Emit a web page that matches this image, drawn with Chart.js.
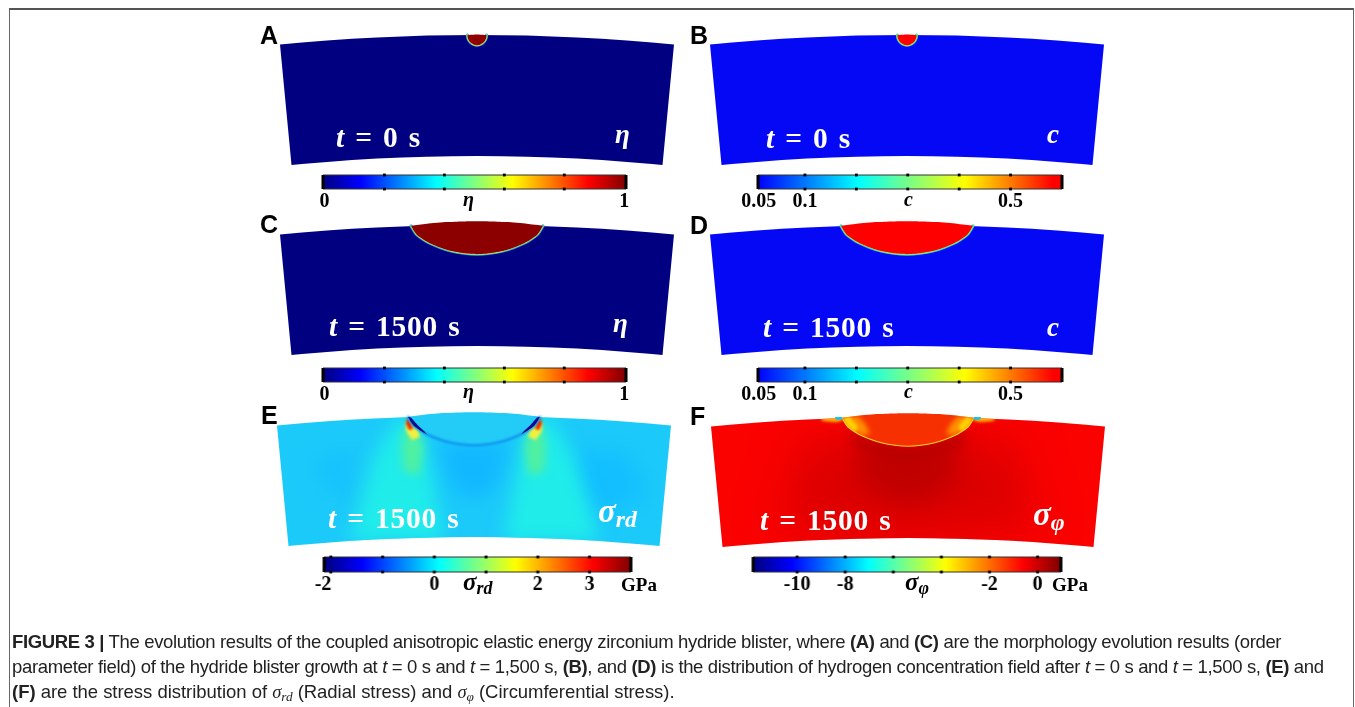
<!DOCTYPE html>
<html><head><meta charset="utf-8">
<script src="https://cdn.jsdelivr.net/npm/chart.js@4/dist/chart.umd.min.js"></script>
<style>
html,body{margin:0;padding:0;background:#fff;overflow:hidden}
#page{position:absolute;left:0;top:0;width:1355px;height:707px;overflow:hidden;filter:blur(.4px)}
#frame{position:absolute;left:9px;top:8px;width:1345px;height:720px;border:1px solid #666;border-top:2px solid #555;box-sizing:border-box}
canvas{position:absolute}
.t{position:absolute;white-space:nowrap;line-height:1}
.letter{font:bold 25px "Liberation Sans";color:#000}
.time{font:bold 29.5px "Liberation Serif";color:#fff;word-spacing:2px;letter-spacing:.8px}
.sym{font:italic bold 27px "Liberation Serif";color:#fff}
.sig{font:italic bold 33px "Liberation Serif";color:#fff}
.bsym{font:italic bold 20px "Liberation Serif";color:#000}
.bsig{font:italic bold 25px "Liberation Serif";color:#000}
.gpa{font:bold 19px "Liberation Serif";color:#000}
sub{font-size:.72em;line-height:0;vertical-align:-.22em}
.cap{font:18.5px "Liberation Sans";color:#222;letter-spacing:-.35px}
.cap3{letter-spacing:-.03px}
.cap i.g{font-family:"Liberation Serif"}
</style></head><body><div id="page"><div id="frame"></div></div>
<script>
// ---- shapes (u = px from panel centre, v = px below arc crown)
const sectorOutline=[[-197,9.5],[-175,7.5],[-150,5.5],[-125,3.8],[-100,2.45],[-75,1.4],[-50,.6],[-25,.15],[0,0],[25,.15],[50,.6],[75,1.4],[100,2.45],[125,3.8],[150,5.5],[175,7.5],[197,9.5],[185.5,130],[175,129],[150,126.9],[125,125.1],[100,123.6],[75,122.5],[50,121.7],[25,121.2],[0,121],[-25,121.2],[-50,121.7],[-75,122.5],[-100,123.6],[-125,125.1],[-150,126.9],[-175,129],[-185.5,130]];
const capLower=[[-9.6,0],[-9.2,3],[-7.8,5.9],[-5.4,8.3],[-2.8,9.7],[0,10.2],[2.8,9.7],[5.4,8.3],[7.8,5.9],[9.2,3],[9.6,0]];
const capUpper=[[9.6,0],[0,-.5],[-9.6,0]];
const lensLower=[[-66,.8],[-63,6],[-60,10],[-53,15],[-46.7,18.5],[-37,22.5],[-26.7,25.8],[-13,28.3],[0,29.2],[13,28.3],[26.7,25.8],[37,22.5],[46.7,18.5],[53,15],[60,10],[63,6],[66,.8]];
const lensUpper=[[66,.8],[50,-1.2],[30,-2.9],[15,-3.6],[0,-3.8],[-15,-3.6],[-30,-2.9],[-50,-1.2]];
// radial stress field patches
const rdPlumeL=[[-75,0],[-100,40],[-125,125],[-30,125],[-45,45],[-55,10]];
const rdPlumeR=[[75,0],[100,40],[125,125],[30,125],[45,45],[55,10]];
const rdUnder=[[-35,28],[35,28],[22,70],[0,85],[-22,70]];
const rdSideR=[[85,40],[150,35],[175,80],[120,100]];
const rdSideL=[[-165,50],[-120,30],[-125,90]];
const rdGreenL=[[-68,8],[-72,30],[-70,55],[-55,60],[-50,30],[-58,12]];
const rdGreenR=[[68,8],[72,30],[70,55],[55,60],[50,30],[58,12]];
const rdYellowL=[[-68,6],[-68,15],[-62,24],[-54,21],[-56,14],[-61,10]];
const rdYellowR=[[68,6],[68,15],[62,24],[54,21],[56,14],[61,10]];
const rdRedL=[[-67,2],[-68,8],[-65,14],[-61,13],[-63,7]];
const rdRedR=[[67,2],[68,8],[65,14],[61,13],[63,7]];
const rdTipL=[[-66,.8],[-63,6],[-60,10],[-53,15],[-47,18.5],[-50,15],[-56,9.5],[-60,5],[-63,1.5]];
const rdTipR=[[66,.8],[63,6],[60,10],[53,15],[47,18.5],[50,15],[56,9.5],[60,5],[63,1.5]];
// circumferential stress field patches
const phiDarkWide=[[-100,15],[-50,30],[0,35],[50,30],[100,15],[130,110],[0,125],[-130,110]];
const phiDarkCore=[[-55,22],[0,32],[55,22],[45,70],[0,90],[-45,70]];
const phiDarkRim=[[-60,12],[-40,24],[0,33],[40,24],[60,12],[50,30],[0,45],[-50,30]];
const phiGlowL=[[-66,.8],[-50,-1],[-42,8],[-38,17],[-47,18.5],[-53,15],[-60,10]];
const phiGlowR=[[66,.8],[50,-1],[42,8],[38,17],[47,18.5],[53,15],[60,10]];
const phiHotL=[[-66,.8],[-58,0],[-50,10],[-53,15],[-60,10]];
const phiHotR=[[66,.8],[58,0],[50,10],[53,15],[60,10]];
const phiHaloL=[[-88,2],[-78,0],[-68,0],[-64,3],[-72,5],[-85,4]];
const phiHaloR=[[88,2],[78,0],[68,0],[64,3],[72,5],[85,4]];
const phiSpotL=[[-73,0],[-66,0],[-65,2.5],[-72,3]];
const phiSpotR=[[73,0],[66,0],[65,2.5],[72,3]];
// colour bars: tick dots, labelled values and label texts
const etaTicks=[.2,.4,.6,.8], etaLabelAt=[0,1], etaLabels=["0","1"];
const concTicks=[.1,.2,.3,.4,.5], concLabelAt=[.01,.1,.5], concLabels=["0.05","0.1","0.5"];
const rdTicks=[-2,-1,0,1,2,3], rdLabelAt=[-2.15,0,2,3], rdLabels=["-2","0","2","3"];
const phiTicks=[-10,-8,-6,-4,-2,0], phiLabelAt=[-10,-8,-2,0], phiLabels=["-10","-8","-2","0"];
const jetStops=[[0,"#000080"],[.125,"#0000ff"],[.375,"#00ffff"],[.625,"#ffff00"],[.875,"#ff0000"],[1,"#800000"]];
const concStops=[[0,"#0000ff"],[.33,"#00ffff"],[.68,"#ffff00"],[.97,"#ff0000"],[1,"#ff0000"]];

const page=document.getElementById('page');
const P=a=>a.map(([x,y])=>({x,y}));
function mk(left,top,w,h){const c=document.createElement('canvas');c.width=w;c.height=h;c.style.cssText=`left:${left}px;top:${top}px;width:${w}px;height:${h}px`;page.appendChild(c);return c;}
function tracePoly(ctx,chart,pts){ctx.beginPath();pts.forEach(([x,y],i)=>{const px=chart.scales.x.getPixelForValue(x),py=chart.scales.y.getPixelForValue(y);i?ctx.lineTo(px,py):ctx.moveTo(px,py);});ctx.closePath();}
const fieldFx={id:'fieldFx',
  prep(chart,i){const ds=chart.data.datasets[i];if(!ds)return;const c=chart.ctx;c.save();
    if(ds.clipShape){tracePoly(c,chart,ds.clipShape);c.clip();}
    c.filter=ds.blurPx?`blur(${ds.blurPx}px)`:'none';},
  beforeDatasetsDraw(chart){this.prep(chart,0);},
  afterDatasetDraw(chart,args){chart.ctx.restore();this.prep(chart,args.index+1);}
};
function fieldChart(cx,cy,layers){
  const c=mk(cx-205,cy-14,410,150);
  new Chart(c,{type:'scatter',plugins:[fieldFx],data:{datasets:layers.map((l,i)=>({
      data:P(l.pts),order:-i,showLine:true,pointRadius:0,pointHoverRadius:0,
      tension:l.tension||0,fill:l.stroke?false:'shape',
      backgroundColor:l.color,borderColor:l.stroke?l.color:'transparent',borderWidth:l.stroke||0,
      blurPx:l.blur||0,clipShape:l.clip||null,clip:false,borderCapStyle:'round'}))},
    options:{responsive:false,animation:false,events:[],layout:{padding:0},
      plugins:{legend:{display:false},tooltip:{enabled:false}},
      scales:{x:{type:'linear',display:false,min:-205,max:205},y:{type:'linear',display:false,reverse:true,min:-14,max:136}}}});
}
function colorBar(x0,x1,top,h,min,max,ticks,labelAt,labels,stops){
  const pad=50,w=x1-x0+2*pad,H=h+4+30;
  const c=mk(x0-pad,top-4,w,H);
  new Chart(c,{type:'scatter',data:{datasets:[
      {data:[{x:min,y:1},{x:max,y:1},{x:max,y:0},{x:min,y:0}],showLine:true,fill:'shape',pointRadius:0,borderWidth:0,clip:false,order:3,
       backgroundColor:ctx=>{const a=ctx.chart.chartArea;if(!a)return '#00f';const g=ctx.chart.ctx.createLinearGradient(a.left,0,a.right,0);stops.forEach(s=>g.addColorStop(s[0],s[1]));return g;}},
      {data:[{x:min,y:1},{x:max,y:1},{x:max,y:0},{x:min,y:0},{x:min,y:1}],showLine:true,fill:false,pointRadius:0,borderColor:'#333',borderWidth:1,clip:false,order:2},
      {data:[{x:min,y:1},{x:min,y:0}],showLine:true,pointRadius:0,borderColor:'#000',borderWidth:3,clip:false,order:1},
      {data:[{x:max,y:1},{x:max,y:0}],showLine:true,pointRadius:0,borderColor:'#000',borderWidth:3,clip:false,order:1},
      {data:ticks.flatMap(v=>[{x:v,y:0},{x:v,y:1}]),showLine:false,pointStyle:'rect',pointRadius:2,backgroundColor:'#000',borderWidth:0,clip:false,order:0}
    ]},
    options:{responsive:false,animation:false,events:[],layout:{padding:{left:pad,right:pad,top:4,bottom:0}},
      plugins:{legend:{display:false},tooltip:{enabled:false}},
      scales:{
        y:{type:'linear',display:false,min:0,max:1},
        x:{type:'linear',min,max,border:{display:false},grid:{display:false,drawTicks:false},
          afterBuildTicks:s=>{s.ticks=labelAt.map(value=>({value}));},
          afterFit:s=>{s.height=30;},
          ticks:{autoSkip:false,maxRotation:0,minRotation:0,padding:1,color:'#000',font:{family:'Liberation Serif',weight:'bold',size:20},
            callback:v=>labels[labelAt.indexOf(v)]}}
      }}});
}
const capLayers=(ring,fill)=>[
  {pts:sectorOutline,color:ring.base},
  {pts:capLower,color:ring.a,stroke:3,tension:.3},
  {pts:capLower,color:ring.b,stroke:1.6,tension:.3},
  {pts:capLower.concat(capUpper),color:fill,tension:.2}];
const lensLayers=(ring,fill)=>[
  {pts:sectorOutline,color:ring.base},
  {pts:lensLower,color:ring.a,stroke:3,tension:.3},
  {pts:lensLower,color:ring.b,stroke:1.2,tension:.3},
  {pts:lensLower.concat(lensUpper),color:fill,tension:.15}];
const navy={base:'#000080',a:'#20b0f0',b:'#d8e830'}, blue={base:'#0408f4',a:'#20d8e0',b:'#b8f030'};
fieldChart(476.5,35,capLayers(navy,'#900000'));
fieldChart(906.5,35,capLayers(blue,'#ff0000'));
fieldChart(476.5,224.8,lensLayers(navy,'#8c0000'));
fieldChart(906.7,224.8,lensLayers(blue,'#ff0000'));
fieldChart(473.7,415.5,[
  {pts:sectorOutline,color:'#1ccafa'},
  {pts:rdSideR,color:'#12beff',blur:12,clip:sectorOutline},
  {pts:rdSideL,color:'#16c2fd',blur:10,clip:sectorOutline},
  {pts:rdPlumeL,color:'#20ecea',blur:9,clip:sectorOutline},
  {pts:rdPlumeR,color:'#20ecea',blur:9,clip:sectorOutline},
  {pts:rdUnder,color:'#12b8ff',blur:8,clip:sectorOutline},
  {pts:rdGreenL,color:'#50f0a0',blur:5,clip:sectorOutline},
  {pts:rdGreenR,color:'#50f0a0',blur:5,clip:sectorOutline},
  {pts:rdYellowL,color:'#f0f040',blur:1.5,clip:sectorOutline},
  {pts:rdYellowR,color:'#f0f040',blur:1.5,clip:sectorOutline},
  {pts:rdRedL,color:'#f03000',blur:.8,clip:sectorOutline},
  {pts:rdRedR,color:'#f03000',blur:.8,clip:sectorOutline},
  {pts:lensLower.concat(lensUpper),color:'#22ccf6',tension:.15},
  {pts:lensLower,color:'#1088f0',stroke:2,tension:.3,blur:.8},
  {pts:rdTipL,color:'#000a90',blur:.6},
  {pts:rdTipR,color:'#000a90',blur:.6}
]);
fieldChart(907.8,417.2,[
  {pts:sectorOutline,color:'#fa0200'},
  {pts:phiDarkWide,color:'#dc0000',blur:22,clip:sectorOutline},
  {pts:phiDarkCore,color:'#c00000',blur:12,clip:sectorOutline},
  {pts:phiDarkRim,color:'#b40000',blur:6,clip:sectorOutline},
  {pts:phiHaloL,color:'#ffc000',blur:1.6,clip:sectorOutline},
  {pts:phiHaloR,color:'#ffc000',blur:1.6,clip:sectorOutline},
  {pts:lensLower.concat(lensUpper),color:'#f63000',tension:.15},
  {pts:phiGlowL,color:'#ff9000',blur:2.5,clip:lensLower.concat(lensUpper)},
  {pts:phiGlowR,color:'#ff9000',blur:2.5,clip:lensLower.concat(lensUpper)},
  {pts:phiHotL,color:'#ffd000',blur:1.5,clip:lensLower.concat(lensUpper)},
  {pts:phiHotR,color:'#ffd000',blur:1.5,clip:lensLower.concat(lensUpper)},
  {pts:lensLower,color:'#ffd820',stroke:1.1,tension:.3,blur:.3},
  {pts:phiSpotL,color:'#20c0e0',blur:.4},
  {pts:phiSpotR,color:'#20c0e0',blur:.4}
]);
colorBar(323,626,175,14,-.005,1.006,etaTicks,etaLabelAt,etaLabels,jetStops);
colorBar(758,1062,175,14,.0087,.6,concTicks,concLabelAt,concLabels,concStops);
colorBar(323,626,367.5,14,-.005,1.006,etaTicks,etaLabelAt,etaLabels,jetStops);
colorBar(758,1062,368,14,.0087,.6,concTicks,concLabelAt,concLabels,concStops);
colorBar(324,630.5,557,15,-2.13,3.8,rdTicks,rdLabelAt,rdLabels,jetStops);
colorBar(753,1060.5,557,15,-11.83,.97,phiTicks,phiLabelAt,phiLabels,jetStops);

// baseline-positioned text
function T(cls,x,base,html,fs){const e=document.createElement('div');e.className='t '+cls;e.innerHTML=html;e.style.left=x+'px';e.style.top=(base-.84*fs)+'px';page.appendChild(e);}
[['A',260,42],['B',690,42],['C',260,231],['D',690,232],['E',261,422],['F',690,423]].forEach(a=>T('letter',a[1],a[2],a[0],25));
[[336,146,'0'],[766,147,'0'],[329,335,'1500'],[763,336,'1500'],[328,527,'1500'],[760,529,'1500']].forEach(a=>T('time',a[0],a[1],`<i>t</i> = ${a[2]} s`,29.5));
T('sym',615,142,'&eta;',27);T('sym',1047,142,'c',27);T('sym',613,331,'&eta;',27);T('sym',1047,335,'c',27);
T('sig',598,521,'&sigma;<sub>rd</sub>',33);T('sig',1033,524,'&sigma;<sub>&phi;</sub>',33);
T('bsym',463,205,'&eta;',20);T('bsym',904,205,'c',20);T('bsym',463,397,'&eta;',20);T('bsym',904,397,'c',20);
T('bsig',463,589,'&sigma;<sub>rd</sub>',25);T('bsig',905,589,'&sigma;<sub>&phi;</sub>',25);
T('gpa',621,590,'GPa',19);T('gpa',1052,590,'GPa',19);
const sg=s=>`<i class="g">&sigma;<sub>${s}</sub></i>`;
T('cap',12,647,'<b>FIGURE 3 |</b> The evolution results of the coupled anisotropic elastic energy zirconium hydride blister, where <b>(A)</b> and <b>(C)</b> are the morphology evolution results (order',18.5);
T('cap',12,672,'parameter field) of the hydride blister growth at <i>t</i> = 0 s and <i>t</i> = 1,500 s, <b>(B)</b>, and <b>(D)</b> is the distribution of hydrogen concentration field after <i>t</i> = 0 s and <i>t</i> = 1,500 s, <b>(E)</b> and',18.5);
T('cap cap3',12,697,`<b>(F)</b> are the stress distribution of ${sg('rd')} (Radial stress) and ${sg('&phi;')} (Circumferential stress).`,18.5);
</script></body></html>
